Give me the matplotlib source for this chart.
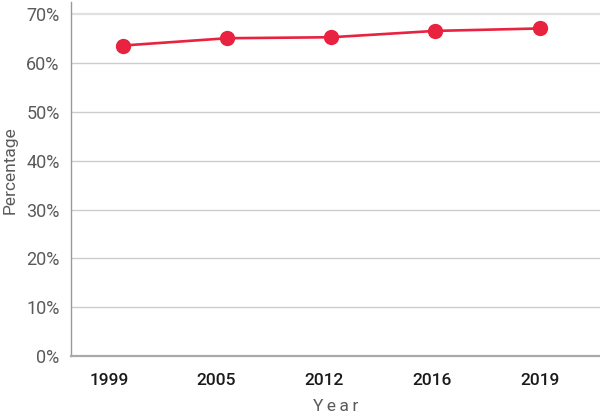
import matplotlib
matplotlib.use("Agg")
import matplotlib.pyplot as plt
from matplotlib.ticker import FuncFormatter

years = ["1999", "2005", "2012", "2016", "2019"]
percentage = [63.6, 65.1, 65.3, 66.6, 67.1]
y_ticks = [0, 10, 20, 30, 40, 50, 60, 70]

fig = plt.figure(figsize=(6, 4.17), dpi=100)
ax = fig.add_axes([0.118, 0.146, 0.882, 0.849])

x = list(range(len(years)))
ax.plot(x, percentage, color="#e8223f", linewidth=1.9, marker="o",
        markersize=10, zorder=3, clip_on=False)

# year labels sit on a slightly wider band than the points
label_pos = [i * 1.034 - 0.135 for i in x]

ax.set_xlim(-0.5, 4.58)
ax.set_ylim(0, 72.5)
ax.set_xticks(label_pos)
ax.set_xticklabels(years, fontfamily="Roboto", fontweight="medium",
                   fontsize=12.5, color="#1a1a1a")
ax.set_yticks(y_ticks)
ax.yaxis.set_major_formatter(FuncFormatter(lambda v, p: f"{v:.0f}%"))
for lab in ax.get_yticklabels():
    lab.set_fontfamily("Roboto")
    lab.set_fontweight("normal")
    lab.set_fontsize(13)
    lab.set_color("#5a5a5a")

ax.tick_params(axis="both", length=0)
ax.tick_params(axis="y", pad=8)
ax.tick_params(axis="x", pad=12)

ax.grid(axis="y", color="#cccccc", linewidth=1)
ax.set_axisbelow(True)
gl = ax.get_ygridlines()
gl[-1].set_color("#e0e0e0")
gl[-1].set_linewidth(1.6)

for s in ["top", "right"]:
    ax.spines[s].set_visible(False)
ax.spines["left"].set_color("#999999")
ax.spines["left"].set_linewidth(1)
ax.spines["bottom"].set_color("#aaaaaa")
ax.spines["bottom"].set_linewidth(1.6)

ax.set_xlabel("Y\u2009e\u2009a\u2009r", fontfamily="Roboto", fontweight="normal",
              fontsize=12.5, color="#5a5a5a", labelpad=8)
ax.set_ylabel("Percentage", fontfamily="Roboto", fontweight="normal",
              fontsize=12.5, color="#5a5a5a")
ax.yaxis.set_label_coords(-0.1, 0.525)

fig.savefig("out.png", dpi=100)
